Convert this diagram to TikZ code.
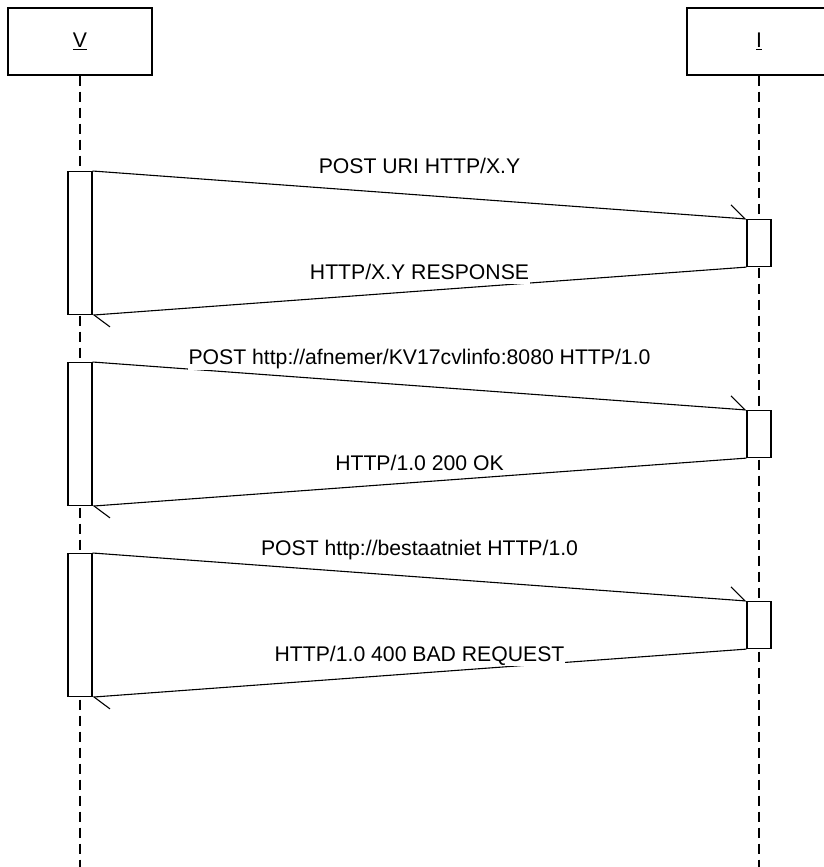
\documentclass[tikz,border=0pt]{standalone}
\usepackage{fontspec}
\setmainfont{Liberation Sans}
\usetikzlibrary{arrows.meta}
\begin{document}
\begin{tikzpicture}
            [
                x = 1pt, y = -1pt,
                line width = 1.1pt,
                every node/.style = {font=\fontsize{21.2}{25}\selectfont},
                actor/.style      = {shape=rectangle, draw, fill=white,
                minimum width=144pt, minimum height=67pt, inner sep=0pt},
                lifeline/.style   = {dash pattern=on 10pt off 6pt},
                activation/.style = {shape=rectangle, draw, fill=white,
                minimum width=24pt, inner sep=0pt, anchor=north},
                msg/.style        = {-{Straight Barb[harpoon, length=15pt, width=26pt]}},
                msglabel/.style   = {midway, anchor=base, fill=white,
                inner xsep=1pt, inner ysep=0pt, text height=16pt, text depth=5pt},
                request/.style    = {msglabel, yshift=21.5pt},
                reply/.style      = {msglabel, yshift=12pt}
            ]
            \useasboundingbox (0,0) rectangle (824,867);
            \clip (0,0) rectangle (824,867);
            \node[actor] (V) at (80,41.5) {\underline{V}};
            \node[actor] (I) at (759,41.5) {\underline{I}};
            \coordinate (Vend) at (80,867);
            \coordinate (Iend) at (759,867);
            \draw[lifeline] (V) -- (Vend);
            \draw[lifeline] (I) -- (Iend);
            % first exchange
            \node[activation, minimum height=143pt] (v1) at (80,171) {};
            \node[activation, minimum height=47pt] (i1) at (759,219) {};
            \draw[msg] (v1.north east) -- (i1.north west)
                node[request] {POST URI HTTP/X.Y};
            \draw[msg] (i1.south west) -- (v1.south east)
                node[reply] {HTTP/X.Y RESPONSE};
            % second exchange
            \node[activation, minimum height=143pt] (v2) at (80,362) {};
            \node[activation, minimum height=47pt] (i2) at (759,410) {};
            \draw[msg] (v2.north east) -- (i2.north west)
                node[request] {POST http://afnemer/KV17cvlinfo:8080 HTTP/1.0};
            \draw[msg] (i2.south west) -- (v2.south east)
                node[reply] {HTTP/1.0 200 OK};
            % third exchange
            \node[activation, minimum height=143pt] (v3) at (80,553) {};
            \node[activation, minimum height=47pt] (i3) at (759,601) {};
            \draw[msg] (v3.north east) -- (i3.north west)
                node[request] {POST http://bestaatniet HTTP/1.0};
            \draw[msg] (i3.south west) -- (v3.south east)
                node[reply] {HTTP/1.0 400 BAD REQUEST};
        \end{tikzpicture}
\end{document}
